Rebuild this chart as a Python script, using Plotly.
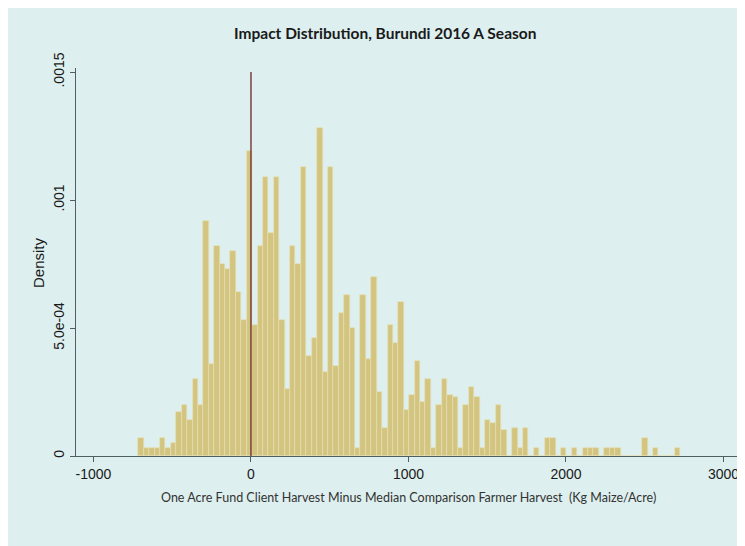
import plotly.graph_objects as go

# ---- data ----
bin_first_center = -698.0   # kg maize/acre, centre of the first bin
bin_width = 34.4            # kg maize/acre

density = [
    0.00007, 0.00003, 0.00003, 0.00003, 0.00007, 0.00003, 0.00005, 0.00017, 0.00020, 0.00014,
    0.00030, 0.00020, 0.00092, 0.00036, 0.00082, 0.00075, 0.00073, 0.00080, 0.00064, 0.00053,
    0.00119, 0.00051, 0.00082, 0.00109, 0.00087, 0.00109, 0.00053, 0.00026, 0.00082, 0.00075,
    0.00113, 0.00039, 0.00046, 0.00128, 0.00033, 0.00113, 0.00035, 0.00056, 0.00063, 0.00050,
    0.00003, 0.00063, 0.00038, 0.00070, 0.00025, 0.00011, 0.00051, 0.00044, 0.00060, 0.00018,
    0.00024, 0.00037, 0.00021, 0.00030, 0.00003, 0.00020, 0.00030, 0.00024, 0.00023, 0.00003,
    0.00020, 0.00027, 0.00023, 0.00003, 0.00014, 0.00013, 0.00020, 0.00010, 0.00000, 0.00011,
    0.00003, 0.00011, 0.00000, 0.00003, 0.00000, 0.00007, 0.00007, 0.00000, 0.00003, 0.00000,
    0.00003, 0.00000, 0.00003, 0.00003, 0.00003, 0.00000, 0.00003, 0.00003, 0.00003, 0.00000,
    0.00000, 0.00000, 0.00000, 0.00007, 0.00000, 0.00003, 0.00000, 0.00000, 0.00000, 0.00003,
]

ref_line_x = [0, 0]
ref_line_y = [0, 0.0015]

x_tick_vals = [-1000, 0, 1000, 2000, 3000]
x_tick_text = ["-1000", "0", "1000", "2000", "3000"]
y_tick_vals = [0, 0.0005, 0.001, 0.0015]
y_tick_text = ["0", "5.0e-04", ".001", ".0015"]

title_text = "Impact Distribution, Burundi 2016 A Season"
x_title = "One Acre Fund Client Harvest Minus Median Comparison Farmer Harvest  (Kg Maize/Acre)"
y_title = "Density"

# ---- styling ----
BG = "#ddefee"
BAR_FILL = "rgb(211,197,128)"
BAR_EDGE = "rgb(234,224,178)"
AXIS = "#4f5f62"
TEXT = "#1a1a1a"

OFF = 8                      # page body margin of the html page
W, H = 745 - OFF, 546 - OFF  # figure size that fits the window
L, R, T, B = 68, 8, 60, 90
pw, ph = W - L - R, H - T - B

fig = go.Figure()
fig.add_trace(go.Bar(
    x0=bin_first_center, dx=bin_width, y=density,
    marker=dict(color=BAR_FILL, line=dict(color=BAR_EDGE, width=0.6)),
    hoverinfo="skip", showlegend=False,
))
fig.add_trace(go.Scatter(
    x=ref_line_x, y=ref_line_y, mode="lines",
    line=dict(color="#6b2727", width=1.3),
    hoverinfo="skip", showlegend=False,
))

# helpers taking screen-pixel positions (window coordinates)
def px_to_paper_x(px):
    return (px - OFF - L) / pw

def px_to_paper_y(py):
    return (H - B - (py - OFF)) / ph

fig.update_layout(
    width=W, height=H,
    margin=dict(l=L, r=R, t=T, b=B, autoexpand=False),
    paper_bgcolor=BG,
    plot_bgcolor=BG,
    bargap=0,
    font=dict(family="Liberation Sans, Arial, sans-serif", size=14, color=TEXT),
    annotations=[
        dict(text="<b>" + title_text + "</b>", xref="paper", yref="paper",
             x=px_to_paper_x(385), y=px_to_paper_y(33), showarrow=False,
             xanchor="center", yanchor="middle",
             font=dict(family="Lato, Noto Sans, sans-serif", size=15.5, color=TEXT)),
        dict(text=x_title, xref="paper", yref="paper",
             x=px_to_paper_x(408), y=px_to_paper_y(497), showarrow=False,
             xanchor="center", yanchor="middle",
             font=dict(family="Lato, Noto Sans, sans-serif", size=12.5, color="#333333")),
        dict(text=y_title, xref="paper", yref="paper",
             x=px_to_paper_x(38), y=px_to_paper_y(263), showarrow=False,
             xanchor="center", yanchor="middle", textangle=-90,
             font=dict(family="Liberation Sans, Arial, sans-serif", size=15, color=TEXT)),
    ],
    xaxis=dict(
        range=[-1111, 3086], tickvals=x_tick_vals, ticktext=x_tick_text,
        showgrid=False, zeroline=False, showline=True, linecolor=AXIS, linewidth=1,
        ticks="outside", ticklen=5, tickcolor=AXIS, tickfont=dict(size=14, color=TEXT),
        fixedrange=True, automargin=False,
    ),
    yaxis=dict(
        range=[0, 0.001516], tickvals=y_tick_vals, ticktext=y_tick_text,
        showgrid=False, zeroline=False, showline=True, linecolor=AXIS, linewidth=1,
        ticks="outside", ticklen=5, tickcolor=AXIS, tickangle=-90,
        tickfont=dict(size=14, color=TEXT), fixedrange=True, automargin=False,
    ),
)

fig.write_html("out.html")
